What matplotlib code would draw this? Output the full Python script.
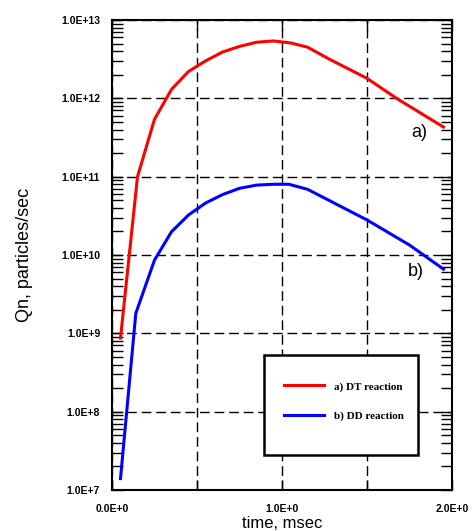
import math
import matplotlib
matplotlib.use("Agg")
import matplotlib.pyplot as plt
import matplotlib.patches as patches
from matplotlib.ticker import LogLocator, NullFormatter, NullLocator

# time, msec
t_dt = [0.05, 0.15, 0.25, 0.35, 0.45, 0.55, 0.65, 0.75, 0.85, 0.95, 1.05, 1.15, 1.28, 1.50, 1.68, 1.95]
q_dt = [8.7e8, 1.0e11, 5.4e11, 1.3e12, 2.2e12, 3.0e12, 3.9e12, 4.6e12, 5.2e12, 5.4e12, 5.1e12,
        4.5e12, 3.15e12, 1.8e12, 9.8e11, 4.3e11]

t_dd = [0.05, 0.14, 0.25, 0.35, 0.45, 0.55, 0.65, 0.75, 0.85, 0.95, 1.04, 1.15, 1.50, 1.75, 1.95]
q_dd = [1.4e7, 1.8e9, 8.6e9, 1.98e10, 3.24e10, 4.6e10, 5.9e10, 7.1e10, 7.8e10, 8.0e10, 8.0e10,
        6.9e10, 2.8e10, 1.34e10, 6.6e9]

labels = ["a) DT reaction", "b) DD reaction"]
x_ticks = [0.0, 0.5, 1.0, 1.5, 2.0]
x_ticklabels = ["0.0E+0", "", "1.0E+0", "", "2.0E+0"]
y_ticks = [1e7, 1e8, 1e9, 1e10, 1e11, 1e12, 1e13]

fig = plt.figure(figsize=(4.73, 5.31), dpi=100)
ax = fig.add_axes([112 / 473, 41 / 531, 340 / 473, 470 / 531])

ax.set_yscale("log")
ax.set_xlim(0, 2)
ax.set_ylim(1e7, 1e13)

line_a, = ax.plot(t_dt, q_dt, color="#ff0000", lw=2.2, zorder=3)
line_b, = ax.plot(t_dd, q_dd, color="#0000ff", lw=2.2, zorder=3)

ax.set_xticks(x_ticks)
ax.set_xticklabels(x_ticklabels)
ax.xaxis.set_minor_locator(NullLocator())
ax.set_yticks(y_ticks)
ax.set_yticklabels(["1.0E+%d" % round(math.log10(v)) for v in y_ticks])
ax.yaxis.set_minor_locator(LogLocator(base=10, subs=range(2, 10), numticks=20))
ax.yaxis.set_minor_formatter(NullFormatter())

ax.tick_params(axis="both", which="both", direction="in", top=True, right=True, color="black")
ax.tick_params(axis="x", which="major", length=7, width=1, pad=10)
ax.tick_params(axis="y", which="major", length=8, width=1, pad=8.5)
ax.tick_params(axis="y", which="minor", length=8, width=1)
for lab in ax.get_xticklabels() + ax.get_yticklabels():
    lab.set_fontfamily("Liberation Sans")
    lab.set_fontweight("bold")
    lab.set_fontsize(7.5)

ax.grid(True, which="major", color="black", lw=1, linestyle=(0, (7, 3.5)), zorder=1)
for s in ax.spines.values():
    s.set_linewidth(1.5)

ax.set_xlabel("time, msec", family="Liberation Sans", fontsize=12, labelpad=1.5)
ax.set_ylabel("Qn, particles/sec", family="Liberation Sans", fontsize=13, labelpad=20)

ax.text(0.903, 0.76, "a)", transform=ax.transAxes, family="Liberation Sans", fontsize=13,
        ha="center", va="center")
ax.text(0.894, 0.464, "b)", transform=ax.transAxes, family="Liberation Sans", fontsize=13,
        ha="center", va="center")

box = patches.Rectangle((152 / 340, 35 / 470), 154 / 340, 100 / 470, transform=ax.transAxes,
                        facecolor="white", edgecolor="black", lw=1.8, zorder=5)
ax.add_patch(box)
leg = ax.legend([line_a, line_b], labels, loc="upper left", bbox_to_anchor=(166 / 340, 114 / 470),
                frameon=False, borderpad=0, handlelength=3.6, handletextpad=0.9,
                labelspacing=1.75, prop={"family": "Liberation Serif", "weight": "bold", "size": 8})
leg.set_zorder(6)

fig.savefig("out.png", dpi=100)
